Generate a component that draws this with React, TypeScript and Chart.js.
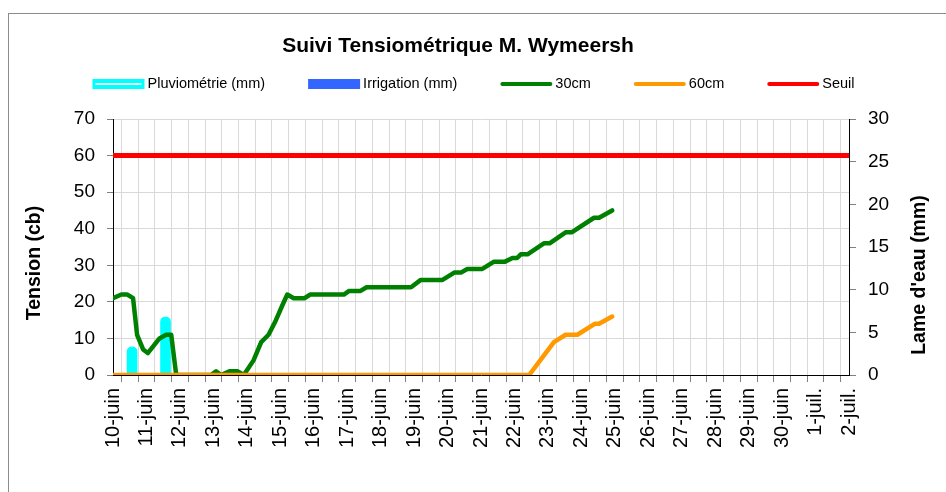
import React, { useEffect, useRef } from 'react';
import { Chart, registerables } from 'chart.js';

Chart.register(...registerables);

const FONT = "'Liberation Sans', Arial, sans-serif";

const chartTitle = 'Suivi Tensiométrique M. Wymeersh';
const leftAxisTitle = 'Tension (cb)';
const rightAxisTitle = "Lame d'eau (mm)";

// x axis: days counted from 10-juin (one tick every half day, labels on whole days)
const dateLabels = [
  '10-juin', '11-juin', '12-juin', '13-juin', '14-juin', '15-juin', '16-juin', '17-juin',
  '18-juin', '19-juin', '20-juin', '21-juin', '22-juin', '23-juin', '24-juin', '25-juin',
  '26-juin', '27-juin', '28-juin', '29-juin', '30-juin', '1-juil.', '2-juil.',
];

// 30cm probe (cb)
const times30 = [
  0, 0.25, 0.43, 0.6, 0.72, 0.9, 1.04, 1.39, 1.59, 1.74, 1.89, 2.93, 3.08, 3.23, 3.48, 3.73,
  3.91, 4.2, 4.43, 4.65, 4.87, 5.06, 5.21, 5.4, 5.73, 5.89, 6.9, 7.06, 7.4, 7.58, 8.91, 9.2,
  9.85, 10.2, 10.4, 10.59, 11.04, 11.39, 11.72, 11.94, 12.08, 12.19, 12.39, 12.88, 13.05,
  13.53, 13.71, 14.38, 14.53, 14.92,
];
const values30 = [
  21, 22, 22, 21, 11, 7, 6, 10, 11, 11, 0, 0, 1, 0, 1, 1,
  0, 4, 9, 11, 15, 19, 22, 21, 21, 22, 22, 23, 23, 24, 24, 26,
  26, 28, 28, 29, 29, 31, 31, 32, 32, 33, 33, 36, 36,
  39, 39, 43, 43, 45,
];

// 60cm probe (cb)
const times60 = [0, 12.44, 13.18, 13.53, 13.88, 14.4, 14.53, 14.92];
const values60 = [0, 0, 9, 11, 11, 14, 14, 16];

// rain (mm)
const rainTimes = [0.57, 1.57];
const rainMm = [3.3, 6.8];

// irrigation (mm)
const irrigationTimes: number[] = [];
const irrigationMm: number[] = [];

// threshold (cb)
const seuilTimes = [0, 22];
const seuilValues = [60, 60];

const toPoints = (xs: number[], ys: number[]) => xs.map((x, i) => ({ x, y: ys[i] }));

const legendItems = [
  { text: 'Pluviométrie (mm)', kind: 'rain', color: '#00ffff' },
  { text: 'Irrigation (mm)', kind: 'box', color: '#3366ff' },
  { text: '30cm', kind: 'line', color: '#008000' },
  { text: '60cm', kind: 'line', color: '#ff9900' },
  { text: 'Seuil', kind: 'line', color: '#ff0000' },
];

const decorPlugin = {
  id: 'decor',
  afterDraw(chart: any) {
    const ctx = chart.ctx as CanvasRenderingContext2D;
    ctx.save();
    ctx.fillStyle = '#000';
    // title
    ctx.font = `bold 21px ${FONT}`;
    ctx.textAlign = 'center';
    ctx.textBaseline = 'middle';
    ctx.fillText(chartTitle, 449, 32);

    // legend
    ctx.font = `14.5px ${FONT}`;
    const boxW = 52;
    const gapBoxText = 3;
    const gapItems = 43;
    const widths = legendItems.map((it) => boxW + gapBoxText + ctx.measureText(it.text).width);
    const total = widths.reduce((a, b) => a + b, 0) + gapItems * (legendItems.length - 1);
    let x = 464.5 - total / 2;
    const cy = 70;
    legendItems.forEach((it, i) => {
      if (it.kind === 'rain') {
        ctx.fillStyle = it.color;
        ctx.fillRect(x, cy - 5, boxW, 10);
        ctx.fillStyle = '#e6ffff';
        ctx.fillRect(x + 3, cy - 1, boxW - 6, 2);
      } else if (it.kind === 'box') {
        ctx.fillStyle = it.color;
        ctx.fillRect(x, cy - 5, boxW, 10);
      } else {
        ctx.strokeStyle = it.color;
        ctx.lineWidth = 4;
        ctx.lineCap = 'round';
        ctx.beginPath();
        ctx.moveTo(x + 2, cy);
        ctx.lineTo(x + boxW - 2, cy);
        ctx.stroke();
      }
      ctx.fillStyle = '#000';
      ctx.textAlign = 'left';
      ctx.fillText(it.text, x + boxW + gapBoxText, cy);
      x += widths[i] + gapItems;
    });

    // axis titles
    ctx.font = `bold 19.5px ${FONT}`;
    ctx.textAlign = 'center';
    ctx.save();
    ctx.translate(26, 249);
    ctx.rotate(-Math.PI / 2);
    ctx.fillText(leftAxisTitle, 0, 0);
    ctx.restore();
    ctx.save();
    ctx.translate(911, 261);
    ctx.rotate(-Math.PI / 2);
    ctx.fillText(rightAxisTitle, 0, 0);
    ctx.restore();
    ctx.restore();
  },
};

export default function App() {
  const canvasRef = useRef<HTMLCanvasElement | null>(null);

  useEffect(() => {
    document.documentElement.style.overflow = 'hidden';
    document.body.style.overflow = 'hidden';
    const canvas = canvasRef.current;
    if (!canvas) return;
    const chart = new Chart(canvas, {
      data: {
        datasets: [
          {
            type: 'bar',
            label: 'Pluviométrie (mm)',
            data: toPoints(rainTimes, rainMm),
            yAxisID: 'y1',
            backgroundColor: '#00ffff',
            barThickness: 10,
            grouped: false,
            borderRadius: { topLeft: 5, topRight: 5, bottomLeft: 0, bottomRight: 0 },
            borderSkipped: false,
            order: 6,
          } as any,
          {
            type: 'bar',
            label: 'Irrigation (mm)',
            data: toPoints(irrigationTimes, irrigationMm),
            yAxisID: 'y1',
            backgroundColor: '#3366ff',
            barThickness: 10,
            grouped: false,
            order: 5,
          } as any,
          {
            type: 'line',
            label: 'Seuil',
            data: toPoints(seuilTimes, seuilValues),
            yAxisID: 'y',
            borderColor: '#ff0000',
            borderWidth: 5,
            pointRadius: 0,
            fill: false,
            order: 4,
          },
          {
            type: 'line',
            label: '30cm',
            data: toPoints(times30, values30),
            yAxisID: 'y',
            borderColor: '#008000',
            borderWidth: 4.5,
            pointRadius: 0,
            borderJoinStyle: 'round',
            borderCapStyle: 'round',
            fill: false,
            order: 3,
          },
          {
            type: 'line',
            label: '60cm',
            data: toPoints(times60, values60),
            yAxisID: 'y',
            borderColor: '#ff9900',
            borderWidth: 4.5,
            pointRadius: 0,
            borderJoinStyle: 'round',
            borderCapStyle: 'round',
            fill: false,
            order: 2,
          },
        ],
      },
      options: {
        responsive: false,
        animation: false,
        events: [],
        layout: { padding: { top: 105, left: 0, right: 0, bottom: 0 } },
        plugins: {
          legend: { display: false },
          title: { display: false },
          tooltip: { enabled: false },
        },
        scales: {
          x: {
            type: 'linear',
            min: 0,
            max: dateLabels.length - 1,
            offset: false,
            grid: { color: '#d9d9d9', lineWidth: 1, tickLength: 7, tickColor: '#808080' },
            border: { color: '#000', width: 1 },
            ticks: {
              stepSize: 0.5,
              autoSkip: false,
              maxRotation: 90,
              minRotation: 90,
              padding: 6,
              color: '#000',
              font: { family: FONT, size: 20 },
              callback: (_v: any, index: number) => (index % 2 === 0 ? dateLabels[index / 2] : ''),
            },
            afterFit: (s: any) => {
              s.height = 117;
            },
          },
          y: {
            type: 'linear',
            position: 'left',
            min: 0,
            max: 70,
            grid: { color: '#d9d9d9', lineWidth: 1, tickLength: 6, tickColor: '#808080' },
            border: { color: '#000', width: 1 },
            ticks: { stepSize: 10, padding: 12, color: '#000', font: { family: FONT, size: 19 } },
            afterFit: (s: any) => {
              s.width = 104;
            },
          },
          y1: {
            type: 'linear',
            position: 'right',
            min: 0,
            max: 30,
            grid: { drawOnChartArea: false, tickLength: 7, tickColor: '#808080' },
            border: { color: '#000', width: 1 },
            ticks: { stepSize: 5, padding: 12, color: '#000', font: { family: FONT, size: 19 } },
            afterFit: (s: any) => {
              s.width = 97;
            },
          },
        },
      },
      plugins: [decorPlugin],
    } as any);
    return () => chart.destroy();
  }, []);

  return (
    <div
      style={{
        position: 'absolute',
        left: 8,
        top: 13,
        width: 990,
        height: 540,
        border: '1px solid #8c8c8c',
        background: '#fff',
      }}
    >
      <canvas ref={canvasRef} width={937} height={478} style={{ display: 'block', width: 937, height: 478 }} />
    </div>
  );
}
